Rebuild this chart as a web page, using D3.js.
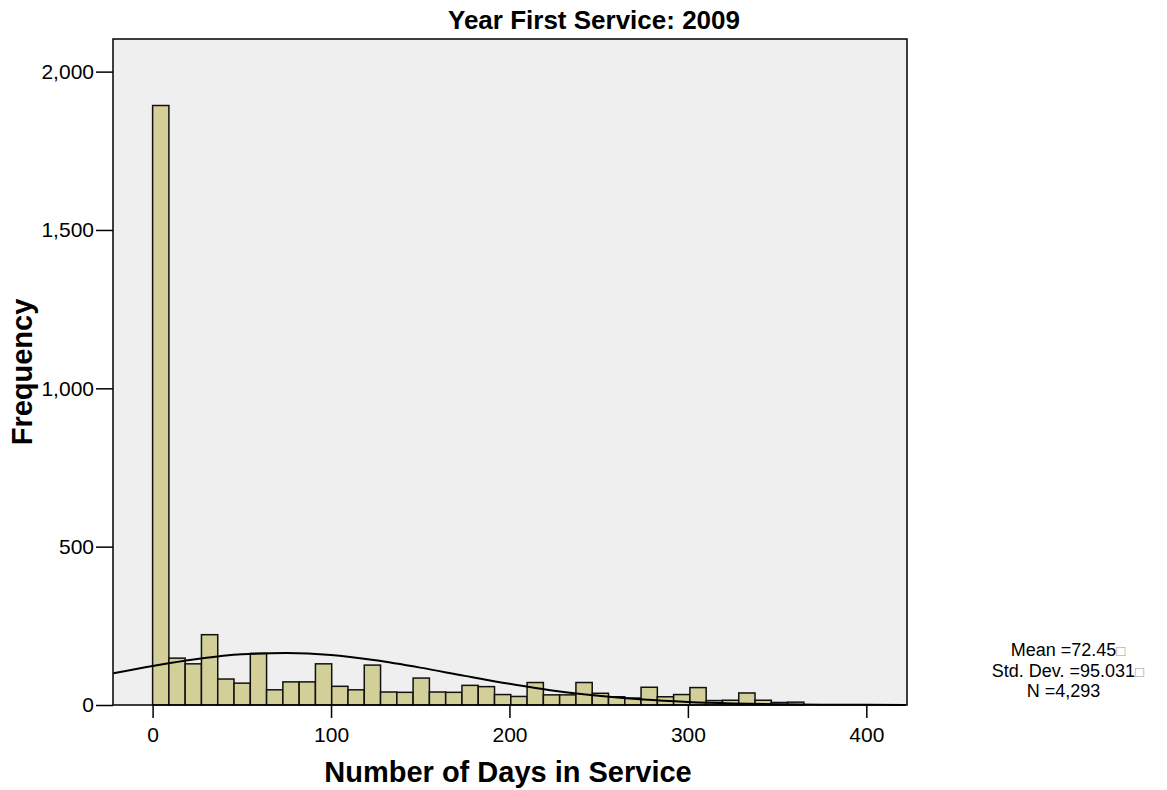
<!DOCTYPE html>
<html>
<head>
<meta charset="utf-8">
<script src="https://cdn.jsdelivr.net/npm/d3@7"></script>
<style>
  body { margin: 0; background: #fff; }
  svg text { font-family: "Liberation Sans", Arial, sans-serif; }
</style>
</head>
<body>
<div id="chart"></div>
<script>
// Chart dimensions
var width = 1167, height = 790;
var plot = { left: 113, top: 39, right: 907, bottom: 705 };

// Histogram bins: 40 bins of 9.125 days, counts
var binWidth = 9.125;
var binCounts = [1893, 148, 130, 222, 82, 69, 163, 48, 73, 73,
                 130, 59, 48, 126, 41, 40, 85, 41, 40, 62,
                 58, 33, 27, 71, 32, 32, 71, 37, 26, 22,
                 56, 26, 33, 55, 14, 15, 38, 15, 8, 9];

// Normal curve
var curveX = [-22, 0, 25, 50, 75, 100, 125, 150, 175, 200, 225, 250, 275, 300, 325, 350, 375, 400, 422];
var curveY = [100, 123, 145, 160, 164, 158, 141, 118, 92, 67, 45, 29, 17, 9.4, 4.8, 2.3, 1.0, 0.4, 0.2];

var xTicks = [0, 100, 200, 300, 400];
var yTicks = [0, 500, 1000, 1500, 2000];
var statsLines = ["Mean =72.45", "Std. Dev. =95.031", "N =4,293"];

var svg = d3.select("#chart").append("svg")
    .attr("width", width)
    .attr("height", height);

var x = d3.scaleLinear().domain([-22.2, 422.8]).range([plot.left, plot.right]);
var y = d3.scaleLinear().domain([0, 2103]).range([plot.bottom, plot.top]);

// Plot background
svg.append("rect")
    .attr("x", plot.left).attr("y", plot.top)
    .attr("width", plot.right - plot.left)
    .attr("height", plot.bottom - plot.top)
    .style("fill", "#efefef");

// Bars
svg.append("g").selectAll("rect")
    .data(binCounts)
    .enter().append("rect")
    .attr("x", function(d, i) { return x(i * binWidth); })
    .attr("y", function(d) { return y(d); })
    .attr("width", function(d, i) { return x((i + 1) * binWidth) - x(i * binWidth); })
    .attr("height", function(d) { return y(0) - y(d); })
    .style("fill", "#d3cf98")
    .style("stroke", "#111")
    .style("stroke-width", 1.5);

// Normal curve
var line = d3.line()
    .x(function(d) { return x(d[0]); })
    .y(function(d) { return y(d[1]); })
    .curve(d3.curveMonotoneX);

svg.append("path")
    .datum(d3.zip(curveX, curveY))
    .attr("d", line)
    .style("fill", "none")
    .style("stroke", "#000")
    .style("stroke-width", 2);

// Frame
svg.append("rect")
    .attr("x", plot.left).attr("y", plot.top)
    .attr("width", plot.right - plot.left)
    .attr("height", plot.bottom - plot.top)
    .style("fill", "none")
    .style("stroke", "#000")
    .style("stroke-width", 1.5);

// Axes
var yAxis = svg.append("g")
    .attr("transform", "translate(" + plot.left + ",0)")
    .call(d3.axisLeft(y).tickValues(yTicks).tickSize(17).tickPadding(2)
        .tickFormat(d3.format(",")));
var xAxis = svg.append("g")
    .attr("transform", "translate(0," + plot.bottom + ")")
    .call(d3.axisBottom(x).tickValues(xTicks).tickSize(13).tickPadding(9));

[yAxis, xAxis].forEach(function(a) {
  a.select(".domain").remove();
  a.selectAll(".tick line").style("stroke", "#000").style("stroke-width", 1.5);
  a.selectAll(".tick text")
      .style("font-family", "'Liberation Sans', Arial, sans-serif")
      .style("font-size", "21px")
      .style("fill", "#000");
});

// Title and axis labels
svg.append("text")
    .attr("x", 594)
    .attr("y", 29)
    .attr("text-anchor", "middle")
    .style("font-size", "26px")
    .style("font-weight", "bold")
    .text("Year First Service: 2009");

svg.append("text")
    .attr("x", 508)
    .attr("y", 782)
    .attr("text-anchor", "middle")
    .style("font-size", "29px")
    .style("font-weight", "bold")
    .text("Number of Days in Service");

svg.append("text")
    .attr("transform", "translate(32," + ((plot.top + plot.bottom) / 2) + ") rotate(-90)")
    .attr("text-anchor", "middle")
    .style("font-size", "29px")
    .style("font-weight", "bold")
    .text("Frequency");

// Stats box
var stats = svg.append("g");
statsLines.forEach(function(s, i) {
  var t = stats.append("text")
      .attr("x", 1068)
      .attr("y", 656 + i * 20.5)
      .attr("text-anchor", "middle")
      .style("font-size", "18px");
  t.append("tspan").text(s);
  t.append("tspan").text("\u25A1")
      .style("fill", i < 2 ? "#999" : "none")
      .style("font-size", "15px");
});
</script>
</body>
</html>
